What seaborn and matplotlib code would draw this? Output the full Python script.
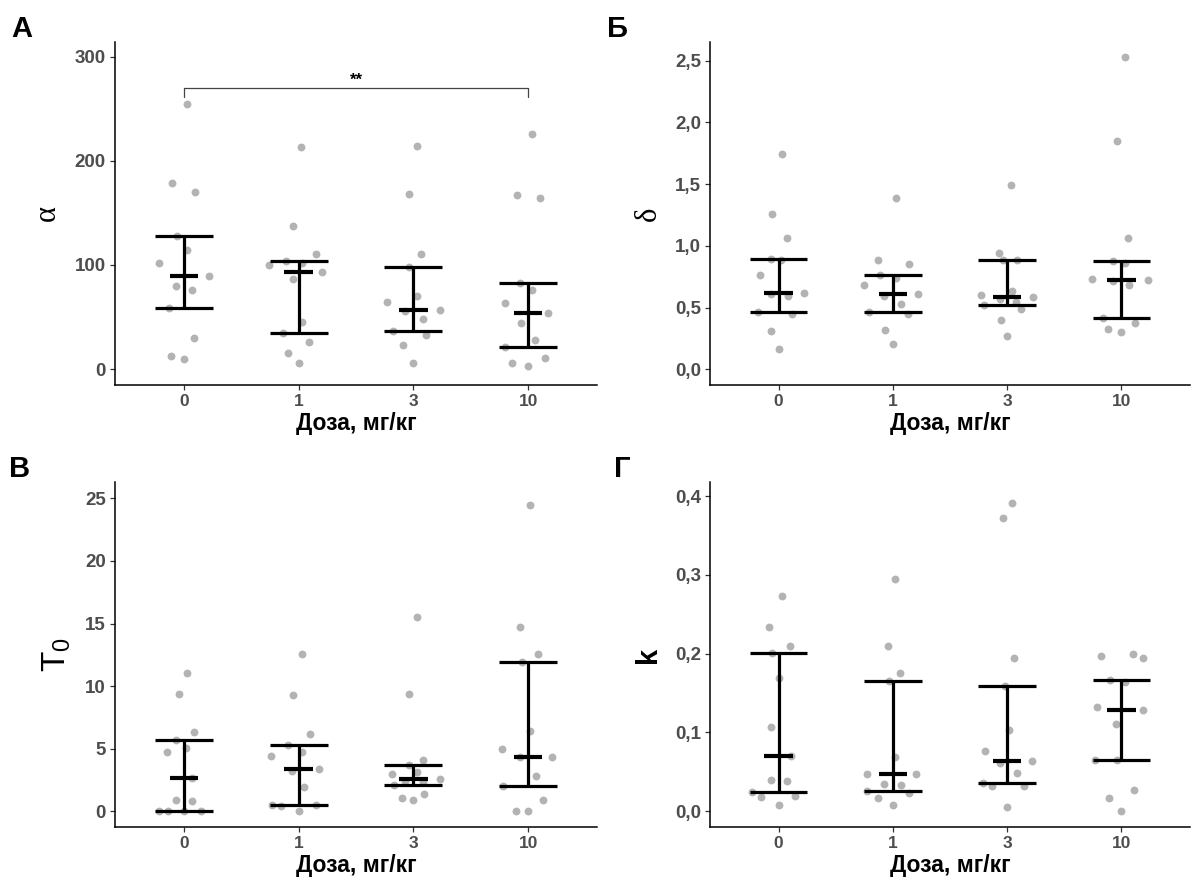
import numpy as np
import pandas as pd
import matplotlib
matplotlib.use("Agg")
import matplotlib.pyplot as plt
import seaborn as sns
from matplotlib.ticker import FixedLocator, FuncFormatter

# ---------------------------------------------------------------- data
doses = ["0", "1", "3", "10"]

# alpha, one list per dose group
alpha_vals = [
    [254.7, 179, 170, 128, 114, 102, 89, 80, 75.6, 59, 30, 12.4, 10],
    [213.5, 137, 110, 100, 103.7, 102, 93, 86, 45, 34.5, 26, 15, 5.4],
    [214.5, 167.6, 110, 98, 70, 64.5, 56, 57, 48.5, 37, 33, 23, 5.4],
    [225.3, 167, 164, 83, 76, 63, 54, 44.7, 28, 21, 10.5, 5.7, 2.9],
]
alpha_jit = [
    [0.03, -0.10, 0.10, -0.06, 0.03, -0.22, 0.22, -0.07, 0.07, -0.13, 0.09, -0.11, 0.0],
    [0.02, -0.05, 0.15, -0.26, -0.11, 0.03, 0.20, -0.05, 0.03, -0.14, 0.09, -0.09, 0.0],
    [0.03, -0.04, 0.07, -0.04, 0.03, -0.23, -0.07, 0.23, 0.08, -0.18, 0.11, -0.09, 0.0],
    [0.03, -0.10, 0.10, -0.07, 0.03, -0.20, 0.17, -0.06, 0.06, -0.20, 0.15, -0.14, 0.0],
]

# delta
delta_vals = [
    [1.745, 1.255, 1.064, 0.894, 0.888, 0.766, 0.612, 0.596, 0.614, 0.463, 0.447, 0.309, 0.168],
    [1.391, 0.886, 0.856, 0.763, 0.739, 0.684, 0.590, 0.612, 0.529, 0.460, 0.447, 0.319, 0.207],
    [1.489, 0.944, 0.883, 0.883, 0.636, 0.598, 0.585, 0.566, 0.545, 0.524, 0.489, 0.396, 0.271],
    [2.527, 1.848, 1.061, 0.880, 0.864, 0.731, 0.723, 0.713, 0.681, 0.412, 0.378, 0.327, 0.303],
]
delta_jit = [
    [0.03, -0.06, 0.07, -0.07, 0.02, -0.16, -0.07, 0.08, 0.22, -0.18, 0.12, -0.07, 0.0],
    [0.03, -0.13, 0.14, -0.11, 0.03, -0.25, -0.08, 0.22, 0.07, -0.21, 0.13, -0.07, 0.0],
    [0.03, -0.07, -0.04, 0.09, 0.04, -0.23, 0.23, -0.06, 0.08, -0.20, 0.12, -0.05, 0.0],
    [0.03, -0.04, 0.06, -0.07, 0.03, -0.26, 0.23, -0.07, 0.07, -0.16, 0.12, -0.12, 0.0],
]

# T0
t0_vals = [
    [11.03, 9.35, 6.34, 5.68, 5.04, 4.77, 2.69, 0.88, 0.85, 0.0, 0.0, 0.0, 0.0],
    [12.6, 9.33, 6.16, 5.30, 4.72, 4.40, 3.36, 3.25, 1.95, 0.53, 0.43, 0.53, 0.0],
    [15.54, 9.41, 4.13, 3.73, 3.12, 3.01, 2.43, 2.59, 2.32, 2.11, 1.36, 1.09, 0.91],
    [24.49, 14.71, 12.55, 11.89, 6.45, 5.01, 4.34, 4.37, 2.85, 2.03, 0.88, 0.0, 0.0],
]
t0_jit = [
    [0.03, -0.04, 0.09, -0.07, 0.02, -0.15, 0.07, -0.07, 0.07, -0.22, -0.14, 0.0, 0.15],
    [0.03, -0.05, 0.10, -0.09, 0.03, -0.24, 0.18, -0.06, 0.05, -0.23, -0.15, 0.15, 0.0],
    [0.03, -0.04, 0.08, -0.04, 0.03, -0.19, -0.07, 0.23, 0.08, -0.17, 0.09, -0.10, 0.0],
    [0.02, -0.07, 0.09, -0.05, 0.02, -0.23, -0.07, 0.21, 0.07, -0.22, 0.13, -0.11, 0.0],
]

# k
k_vals = [
    [0.2736, 0.2336, 0.2102, 0.2013, 0.1694, 0.1064, 0.0698, 0.0400, 0.0379, 0.0247, 0.0183, 0.0191, 0.0077],
    [0.2945, 0.2094, 0.1757, 0.1655, 0.0685, 0.0468, 0.0468, 0.0349, 0.0336, 0.0260, 0.0230, 0.0166, 0.0081],
    [0.3910, 0.3720, 0.1945, 0.1590, 0.1026, 0.0766, 0.0643, 0.0617, 0.0481, 0.0357, 0.0319, 0.0319, 0.0051],
    [0.1974, 0.2000, 0.1945, 0.1670, 0.1640, 0.1320, 0.1290, 0.1110, 0.0647, 0.0655, 0.0268, 0.0166, 0.0],
]
k_jit = [
    [0.03, -0.08, 0.10, -0.06, 0.0, -0.07, 0.11, -0.07, 0.07, -0.23, -0.15, 0.14, 0.0],
    [0.02, -0.04, 0.06, -0.03, 0.02, -0.23, 0.20, -0.08, 0.07, -0.23, 0.14, -0.13, 0.0],
    [0.04, -0.04, 0.06, -0.02, 0.02, -0.19, 0.22, -0.06, 0.09, -0.21, -0.13, 0.15, 0.0],
    [-0.18, 0.10, 0.19, -0.10, 0.03, -0.21, 0.19, -0.05, -0.23, -0.04, 0.11, -0.11, 0.0],
]

# -------------------------------------------------------------- styling
sns.set_theme(style="ticks")
plt.rcParams["font.family"] = ["Liberation Sans", "DejaVu Sans"]
plt.rcParams["mathtext.fontset"] = "custom"
plt.rcParams["mathtext.rm"] = "Liberation Sans"

POINT_COLOR = "#B3B3B3"
TICK_COLOR = "#4D4D4D"
BAR_LW = 2.3

fig = plt.figure(figsize=(11.92, 8.88), dpi=100)
W, H = 1192, 888


def add_axes_px(left, top, right, bottom):
    return fig.add_axes([left / W, 1 - bottom / H, (right - left) / W, (bottom - top) / H])


def comma_fmt(decimals):
    return FuncFormatter(lambda v, _: f"{v:.{decimals}f}".replace(".", ","))


def draw_panel(ax, vals, jit, ylim, yticks, decimals, ylabel, ylabel_kw):
    rows = []
    for gi, (gv, gj) in enumerate(zip(vals, jit)):
        for v, dx in zip(gv, gj):
            rows.append({"pos": gi + dx, "value": v})
    df = pd.DataFrame(rows)
    sns.scatterplot(data=df, x="pos", y="value", ax=ax, color=POINT_COLOR,
                    s=32, linewidth=0, zorder=2, legend=False)

    # median with interquartile range
    for gi, gv in enumerate(vals):
        q1, med, q3 = np.percentile(gv, [25, 50, 75])
        ax.vlines(gi, q1, q3, color="black", lw=BAR_LW, zorder=3)
        ax.hlines([q1, q3], gi - 0.252, gi + 0.252, color="black", lw=BAR_LW, zorder=3)
        ax.hlines(med, gi - 0.124, gi + 0.124, color="black", lw=BAR_LW + 0.7, zorder=3)

    ax.set_xlim(-0.6, 3.6)
    ax.set_ylim(*ylim)
    ax.xaxis.set_major_locator(FixedLocator(range(len(doses))))
    ax.set_xticklabels(doses)
    ax.yaxis.set_major_locator(FixedLocator(yticks))
    ax.yaxis.set_major_formatter(comma_fmt(decimals))
    for lab in ax.get_xticklabels():
        lab.set_fontweight("bold")
        lab.set_color(TICK_COLOR)
        lab.set_fontsize(12.5)
    for lab in ax.get_yticklabels():
        lab.set_fontweight("bold")
        lab.set_color(TICK_COLOR)
        lab.set_fontsize(13.5)
    ax.tick_params(axis="both", length=3.5, width=0.9, color="#333333", pad=3)
    for side in ("top", "right"):
        ax.spines[side].set_visible(False)
    for side in ("left", "bottom"):
        ax.spines[side].set_color("black")
        ax.spines[side].set_linewidth(1.1)
    ax.set_xlabel("Доза, мг/кг", fontsize=16.5, fontweight="bold", color="black", labelpad=2)
    ax.set_ylabel(ylabel, color="black", labelpad=9, **ylabel_kw)
    ax.grid(False)


ax_a = add_axes_px(115, 42, 597, 385)
ax_b = add_axes_px(710, 42, 1190, 385)
ax_c = add_axes_px(115, 482, 597, 827)
ax_d = add_axes_px(710, 482, 1190, 827)

serif = ["Liberation Serif", "DejaVu Serif"]
draw_panel(ax_a, alpha_vals, alpha_jit, (-15.3, 314), [0, 100, 200, 300], 0,
           "α", dict(fontsize=22, family=serif))
draw_panel(ax_b, delta_vals, delta_jit, (-0.127, 2.65), [0, 0.5, 1.0, 1.5, 2.0, 2.5], 1,
           "δ", dict(fontsize=22, family=serif))
draw_panel(ax_c, t0_vals, t0_jit, (-1.25, 26.3), [0, 5, 10, 15, 20, 25], 0,
           r"$\mathregular{T_0}$", dict(fontsize=24))
draw_panel(ax_d, k_vals, k_jit, (-0.02, 0.418), [0, 0.1, 0.2, 0.3, 0.4], 1,
           "k", dict(fontsize=21, fontweight="bold"))

# significance bracket between dose 0 and dose 10
sig_y, sig_drop = 269.5, 261.0
ax_a.plot([0, 0, 3, 3], [sig_drop, sig_y, sig_y, sig_drop], color="#444444", lw=0.9, zorder=1)
ax_a.text(1.5, sig_y + 1.0, "**", ha="center", va="bottom", fontsize=12, fontweight="bold",
          color="black")

# panel letters
for label, (px, py) in zip(["А", "Б", "В", "Г"],
                           [(22, 29), (618, 29), (20, 469), (622, 469)]):
    fig.text(px / W, 1 - py / H, label, fontsize=21, fontweight="bold",
             ha="center", va="center", color="black")

fig.savefig("out.png", dpi=100)
